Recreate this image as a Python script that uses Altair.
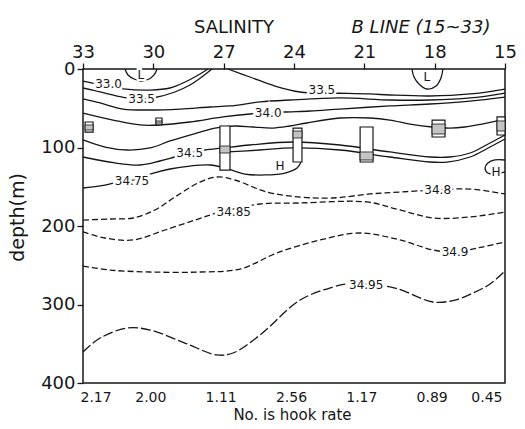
import altair as alt
import pandas as pd

# ---------------- data ----------------
stations = [33, 30, 27, 24, 21, 18, 15]
hook_rates = ["2.17", "2.00", "1.11", "2.56", "1.17", "0.89", "0.45"]
depth_ticks = [0, 100, 200, 300, 400]

# isohalines: station position and depth (m) along each line
s_330 = [33.00, 32.49, 31.85, 31.29, 30.14, 29.29, 28.56, 28.01, 27.67]
d_330 = [15.3, 18.5, 22.3, 25.2, 26.8, 24.2, 15.3, 6.4, 0.0]

s_335a = [33.00, 32.06, 31.12, 30.53, 29.93, 29.08, 28.44, 27.88, 27.50]
d_335a = [24.2, 30.6, 36.9, 38.2, 36.3, 29.3, 20.4, 8.9, 0.0]

s_335b = [26.82, 25.88, 24.81, 23.74, 22.46, 20.76, 19.91, 18.20, 16.49, 15.00]
d_335b = [0.0, 10.2, 21.7, 29.3, 30.6, 31.8, 33.1, 34.4, 31.8, 25.5]

s_3375 = [33.00, 32.27, 31.29, 30.14, 28.86, 27.58, 26.73, 25.45, 24.17, 22.04, 19.91, 18.20, 16.49, 15.00]
d_3375 = [38.2, 43.3, 51.0, 52.2, 51.0, 48.4, 47.1, 42.0, 39.5, 36.9, 39.5, 39.5, 36.9, 30.6]

s_340 = [33.00, 31.72, 30.57, 29.72, 28.44, 27.03, 25.88, 24.47, 23.32, 22.04, 19.91, 18.20, 16.49, 15.00]
d_340 = [56.1, 65.0, 71.3, 71.3, 67.5, 61.1, 57.3, 54.8, 53.5, 51.0, 47.1, 44.6, 40.8, 35.7]

s_345a = [33.00, 32.06, 31.12, 30.14, 29.29, 28.14, 27.37, 26.52, 25.75, 24.90, 24.17,
          23.45, 22.04, 20.76, 19.91, 19.05, 18.11, 17.35, 16.71, 15.98, 15.34, 15.00]
d_345a = [90.4, 99.4, 103.2, 100.6, 91.7, 81.5, 75.2, 72.6, 73.9, 75.2, 72.6,
          68.8, 62.4, 62.4, 65.0, 70.1, 73.9, 75.2, 73.9, 70.1, 66.2, 63.7]

s_345 = [33.00, 31.64, 30.57, 29.72, 29.08, 28.44, 27.80, 27.03, 25.88, 24.04, 22.04,
         19.91, 18.20, 17.35, 16.49, 15.64, 15.00]
d_345 = [112.1, 119.7, 122.3, 117.2, 112.1, 107.0, 103.2, 100.6, 96.8, 93.0, 96.8,
         105.7, 112.1, 112.1, 107.0, 94.3, 84.1]

s_345b = [26.82, 25.45, 24.04, 22.04, 19.91, 18.20, 17.47, 16.49, 15.64, 15.00]
d_345b = [105.7, 103.2, 100.6, 103.2, 112.1, 118.5, 118.5, 112.1, 99.4, 89.2]

s_3475 = [33.00, 32.27, 31.64, 30.87, 30.14, 29.29, 28.44, 27.58, 26.94, 26.09, 25.24, 24.38, 23.87, 23.70]
d_3475 = [151.6, 149.0, 145.2, 141.4, 133.8, 127.4, 123.6, 122.3, 126.1, 133.8, 135.0, 132.5, 126.1, 118.5]

s_hr = [15.00, 15.43, 15.73, 15.85, 15.73, 15.38, 15.00]
d_hr = [115.9, 115.9, 119.7, 126.1, 132.5, 133.8, 131.2]

s_l30 = [31.21, 31.08, 30.82, 30.53, 30.18, 29.97, 29.84]
d_l30 = [0.0, 7.6, 12.7, 15.3, 12.7, 7.6, 0.0]

s_l18 = [18.97, 18.88, 18.67, 18.33, 17.94, 17.73, 17.65]
d_l18 = [0.0, 10.2, 19.1, 25.5, 21.7, 11.5, 0.0]

s_348 = [33.00, 31.85, 30.87, 29.93, 29.08, 28.01, 27.28, 26.52, 25.15, 23.74, 22.34, 20.76, 19.48, 17.90, 16.49, 15.00]
d_348 = [192.4, 191.1, 189.8, 179.6, 163.1, 144.0, 137.6, 141.4, 156.7, 163.1, 164.3, 159.2, 156.7, 154.1, 152.9, 159.2]

s_3485 = [33.00, 32.06, 30.87, 29.50, 28.22, 27.28, 25.45, 23.74, 20.89, 19.48, 18.07, 16.49, 15.00]
d_3485 = [207.6, 215.3, 217.8, 205.1, 192.4, 183.4, 172.0, 170.7, 169.4, 179.6, 189.8, 188.5, 182.2]

s_349 = [33.00, 31.85, 30.14, 28.01, 26.30, 24.73, 22.89, 21.18, 19.48, 18.07, 17.13, 15.98, 15.00]
d_349 = [251.0, 256.1, 258.6, 258.6, 254.8, 234.4, 217.8, 208.9, 217.8, 230.6, 233.1, 226.8, 220.4]

s_3495 = [33.00, 32.27, 31.12, 30.14, 28.65, 27.28, 26.60, 25.45, 23.74, 22.34, 21.74,
          20.93, 19.69, 18.07, 17.13, 16.37, 15.64, 15.00]
d_3495 = [360.5, 342.7, 330.0, 332.5, 349.1, 364.3, 361.8, 338.9, 294.3, 277.7, 273.9,
          273.9, 279.0, 296.8, 294.3, 285.4, 273.9, 257.3]

# contour labels
label_text = ["33.0", "33.5", "33.5", "34.0", "34.5", "34.75", "34.8", "34.85", "34.9", "34.95"]
label_s = [31.91, 30.50, 22.81, 25.10, 28.45, 30.91, 17.87, 26.57, 17.13, 20.92]
label_d = [19.1, 38.2, 26.8, 56.1, 107.0, 142.7, 154.1, 182.2, 233.1, 275.2]

mark_text_ = ["L", "L", "H", "H"]
mark_s = [30.53, 18.33, 24.60, 15.38]
mark_d = [7.6, 10.2, 123.6, 131.2]

# hook-depth bars at each station
box_s1 = [32.91, 29.89, 27.16, 24.04, 21.18, 18.11, 15.34]
box_s2 = [32.57, 29.63, 26.73, 23.66, 20.63, 17.56, 15.00]
box_top = [67.5, 62.4, 72.6, 75.2, 73.9, 65.0, 61.1]
box_bot = [80.3, 71.3, 128.7, 118.5, 118.5, 86.6, 84.1]
band_top = [71.3, 66.2, 98.1, 79.0, 105.7, 70.1, 66.2]
band_bot = [77.7, 68.8, 107.0, 87.9, 115.9, 82.8, 79.0]

solid_lines = {
    "33.0": (s_330, d_330), "33.5a": (s_335a, d_335a), "33.5b": (s_335b, d_335b),
    "33.75": (s_3375, d_3375), "34.0": (s_340, d_340), "34.5a": (s_345a, d_345a),
    "34.5": (s_345, d_345), "34.5b": (s_345b, d_345b), "34.75": (s_3475, d_3475),
    "Hr": (s_hr, d_hr), "L30": (s_l30, d_l30), "L18": (s_l18, d_l18),
}
dashed_lines = {
    "34.8": (s_348, d_348), "34.85": (s_3485, d_3485), "34.9": (s_349, d_349),
}
long_dashed_lines = {"34.95": (s_3495, d_3495)}


def to_frame(lines):
    rows = []
    for name, (ss, dd) in lines.items():
        for i, (s, d) in enumerate(zip(ss, dd)):
            rows.append({"line": name, "i": i, "station": s, "depth": d})
    return pd.DataFrame(rows)


FONT = "DejaVu Sans"
INK = "#161616"

xs = alt.Scale(domain=[15, 33], reverse=True, nice=False, zero=False)
ys = alt.Scale(domain=[0, 400], reverse=True, nice=False, zero=False)

label_expr = "[" + ",".join("'%s'" % h for h in hook_rates) + "][round((33 - datum.value) / 3)]"

axis_df = pd.DataFrame({"station": stations, "depth": [0] * len(stations)})

axis_top = alt.Chart(axis_df).mark_point(opacity=0).encode(
    x=alt.X("station:Q", scale=xs, axis=alt.Axis(
        orient="top", values=stations, title=None, format="d", tickSize=6, tickWidth=1.3,
        tickColor=INK, labelFontSize=18, labelPadding=2, labelOverlap=False, labelFlush=False)),
    y=alt.Y("depth:Q", scale=ys, axis=alt.Axis(
        orient="left", values=depth_ticks, title="depth(m)", format="d", tickSize=6, tickWidth=1.3,
        tickColor=INK, labelFontSize=18, labelPadding=2, labelOverlap=False, labelFlush=False,
        labelExpr="datum.value == 0 ? '0\u2007' : datum.label",
        titleFontSize=19, titleFontWeight="normal", titleX=-66, titleY=148,
        titleAlign="center", titleBaseline="middle", titleAngle=270)),
)

axis_bottom = alt.Chart(axis_df).mark_point(opacity=0).encode(
    x=alt.X("station:Q", scale=xs, axis=alt.Axis(
        orient="bottom", values=stations, title="No. is hook rate", labelExpr=label_expr,
        ticks=False, tickSize=0, labelFontSize=14, labelPadding=7, labelOverlap=False,
        labelFlush=True, labelOffset=-3, titleFontSize=15, titleFontWeight="normal",
        titleX=209, titleY=31, titleBaseline="middle", titleAlign="center")),
    y=alt.Y("depth:Q", scale=ys, axis=None),
)

line_enc = dict(
    x=alt.X("station:Q", scale=xs, axis=None),
    y=alt.Y("depth:Q", scale=ys, axis=None),
    detail="line:N",
    order="i:Q",
)

solid = alt.Chart(to_frame(solid_lines)).mark_line(
    color=INK, strokeWidth=1.3, interpolate="catmull-rom"
).encode(**line_enc)

dashed = alt.Chart(to_frame(dashed_lines)).mark_line(
    color=INK, strokeWidth=1.3, strokeDash=[6, 3], interpolate="catmull-rom"
).encode(**line_enc)

long_dashed = alt.Chart(to_frame(long_dashed_lines)).mark_line(
    color=INK, strokeWidth=1.3, strokeDash=[10, 3], interpolate="catmull-rom"
).encode(**line_enc)

boxes_df = pd.DataFrame({"s1": box_s1, "s2": box_s2, "t": box_top, "b": box_bot,
                         "bt": band_top, "bb": band_bot})
boxes = alt.Chart(boxes_df).mark_rect(fill="white", stroke=INK, strokeWidth=1.2).encode(
    x=alt.X("s1:Q", scale=xs, axis=None), x2="s2:Q",
    y=alt.Y("t:Q", scale=ys, axis=None), y2="b:Q",
)
bands = alt.Chart(boxes_df).mark_rect(fill="#c4c4c4", stroke=INK, strokeWidth=0.8).encode(
    x=alt.X("s1:Q", scale=xs, axis=None), x2="s2:Q",
    y=alt.Y("bt:Q", scale=ys, axis=None), y2="bb:Q",
)

labels_df = pd.DataFrame({"text": label_text, "station": label_s, "depth": label_d})
marks_df = pd.DataFrame({"text": mark_text_, "station": mark_s, "depth": mark_d})

txt_enc = dict(
    x=alt.X("station:Q", scale=xs, axis=None),
    y=alt.Y("depth:Q", scale=ys, axis=None),
    text="text:N",
)

halo = alt.Chart(labels_df).mark_text(
    font=FONT, fontSize=12, color="white", stroke="white", strokeWidth=5, baseline="middle"
).encode(**txt_enc)
labels = alt.Chart(labels_df).mark_text(
    font=FONT, fontSize=12, color=INK, baseline="middle"
).encode(**txt_enc)

mhalo = alt.Chart(marks_df).mark_text(
    font=FONT, fontSize=12, color="white", stroke="white", strokeWidth=4, baseline="middle"
).encode(**txt_enc)
mlabels = alt.Chart(marks_df).mark_text(
    font=FONT, fontSize=12, color=INK, baseline="middle"
).encode(**txt_enc)

title_df = pd.DataFrame({"t": ["SALINITY"]})
title1 = alt.Chart(title_df).mark_text(
    font=FONT, fontSize=18, color=INK, baseline="middle", align="center"
).encode(x=alt.value(151), y=alt.value(-41), text="t:N")
sub_df = pd.DataFrame({"t": ["B LINE (15~33)"]})
title2 = alt.Chart(sub_df).mark_text(
    font=FONT, fontSize=18, fontStyle="italic", color=INK, baseline="middle", align="center"
).encode(x=alt.value(338), y=alt.value(-41), text="t:N")

chart = alt.layer(
    axis_top, axis_bottom, solid, dashed, long_dashed, boxes, bands,
    halo, labels, mhalo, mlabels, title1, title2
).resolve_axis(
    x="independent", y="independent"
).properties(
    width=422, height=314,
    autosize=alt.AutoSizeParams(type="none"),
    padding={"left": 83, "top": 69, "right": 20, "bottom": 46},
).configure_view(
    stroke=INK, strokeWidth=1.5
).configure_axis(
    domain=False, grid=False, labelFont=FONT, titleFont=FONT,
    labelColor=INK, titleColor=INK
)

chart.save("out.html", embed_options={"renderer": "svg", "actions": False})
